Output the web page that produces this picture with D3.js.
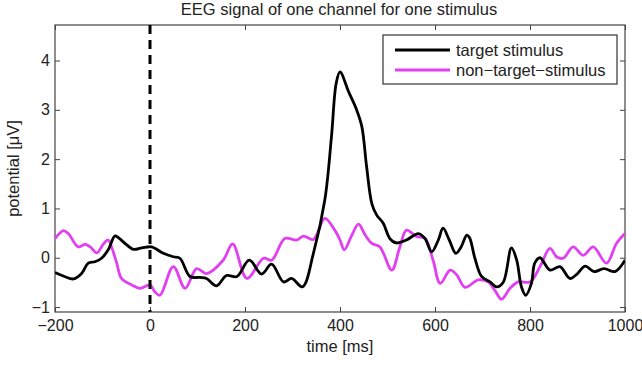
<!DOCTYPE html>
<html><head><meta charset="utf-8">
<script src="https://cdn.jsdelivr.net/npm/d3@7"></script>
<style>body{margin:0;background:#fff}svg{display:block}text{font-family:"Liberation Sans",Arial,sans-serif}</style>
</head><body><svg id="c" width="642" height="368"></svg>
<script>
const targetTime = [-200,-180,-161,-144,-130,-116,-102,-88,-74,-67,-49,-35,-17,3,28,49,63,84,105,119,140,161,183,209,235,256,281,298,321,344,368,382,392,400,418,435,446,456,467,477,491,505,519,540,565,579,593,607,617,630,644,655,667,673,684,698,716,730,744,761,772,782,791,803,810,821,842,863,884,900,916,935,956,979,1000];
const targetValue = [-0.30,-0.38,-0.43,-0.32,-0.11,-0.08,-0.01,0.16,0.44,0.41,0.26,0.17,0.20,0.22,0.09,0.02,-0.01,-0.38,-0.40,-0.42,-0.57,-0.36,-0.38,-0.05,-0.33,-0.13,-0.49,-0.42,-0.59,0.09,1.17,2.45,3.54,3.77,3.37,3.00,2.66,1.85,1.10,0.87,0.70,0.39,0.30,0.36,0.49,0.39,0.12,0.36,0.60,0.36,0.09,0.22,0.46,0.40,-0.01,-0.38,-0.49,-0.59,-0.49,0.20,-0.05,-0.59,-0.76,-0.52,-0.11,0.00,-0.25,-0.18,-0.42,-0.32,-0.17,-0.28,-0.22,-0.28,-0.05];
const nonTargetTime = [-200,-182,-172,-151,-137,-126,-112,-98,-88,-81,-70,-60,-39,-21,0,10,21,49,74,98,119,154,174,204,239,256,284,309,323,344,368,389,400,409,425,439,453,467,484,509,526,540,561,579,596,611,632,646,663,691,712,726,740,758,775,800,821,842,856,870,891,912,933,961,982,1000];
const nonTargetValue = [0.39,0.55,0.49,0.22,0.27,0.22,0.10,0.28,0.36,0.22,-0.11,-0.42,-0.55,-0.62,-0.55,-0.69,-0.76,-0.18,-0.62,-0.22,-0.32,-0.05,0.28,-0.42,-0.01,-0.05,0.39,0.36,0.44,0.37,0.80,0.56,0.36,0.16,0.46,0.68,0.46,0.29,0.22,-0.25,0.22,0.56,0.43,0.39,-0.05,-0.52,-0.25,-0.35,-0.60,-0.45,-0.49,-0.66,-0.84,-0.62,-0.49,-0.49,-0.18,0.19,0.02,-0.01,0.22,0.05,0.22,-0.11,0.29,0.49];
const xTicks = [-200,0,200,400,600,800,1000];
const yTicks = [-1,0,1,2,3,4];
const seriesNames = ["target stimulus","non\u2212target\u2212stimulus"];
const seriesColors = ["#000000","#e23ff2"];
const stimulusOnset = 0;

const svg = d3.select("#c");
const L=55,R=625,T=25,B=312;
const x = d3.scaleLinear().domain([-200,1000]).range([L,R]);
const y = d3.scaleLinear().domain([-1.1,4.72]).range([B,T]);

svg.append("text").attr("x",(L+R)/2-1).attr("y",15).attr("text-anchor","middle")
  .attr("font-size",16.5).attr("fill","#222").text("EEG signal of one channel for one stimulus");

const fmt = d => d<0 ? "\u2212"+Math.abs(d) : String(d);
const gx = svg.append("g").attr("transform",`translate(0,${B})`)
  .call(d3.axisBottom(x).tickValues(xTicks).tickSize(-5).tickPadding(8).tickFormat(fmt));
const gx2 = svg.append("g").attr("transform",`translate(0,${T})`)
  .call(d3.axisTop(x).tickValues(xTicks).tickSize(-5).tickFormat(""));
const gy = svg.append("g").attr("transform",`translate(${L},0)`)
  .call(d3.axisLeft(y).tickValues(yTicks).tickSize(-5).tickPadding(5).tickFormat(fmt));
const gy2 = svg.append("g").attr("transform",`translate(${R},0)`)
  .call(d3.axisRight(y).tickValues(yTicks).tickSize(-5).tickFormat(""));
[gx,gx2,gy,gy2].forEach(g=>{
  g.selectAll(".domain").remove();
  g.selectAll("line").attr("stroke","#444").attr("stroke-width",1);
  g.selectAll("text").attr("font-size",16).attr("fill","#222").attr("font-family","Liberation Sans,Arial,sans-serif");
});
svg.append("rect").attr("x",L).attr("y",T).attr("width",R-L).attr("height",B-T)
  .attr("fill","none").attr("stroke","#444").attr("stroke-width",1.2);

svg.append("text").attr("x",(L+R)/2).attr("y",352).attr("text-anchor","middle")
  .attr("font-size",16.5).attr("fill","#222").text("time [ms]");
svg.append("text").attr("transform",`translate(19,${(T+B)/2}) rotate(-90)`).attr("text-anchor","middle")
  .attr("font-size",16.5).attr("fill","#222").text("potential [\u03bcV]");

const clip = svg.append("clipPath").attr("id","cp").append("rect").attr("x",L).attr("y",T).attr("width",R-L).attr("height",B-T);
const line = d3.line().x(d=>x(d[0])).y(d=>y(d[1])).curve(d3.curveCatmullRom.alpha(0.5));
const g = svg.append("g").attr("clip-path","url(#cp)");
g.append("path").datum(d3.zip(nonTargetTime,nonTargetValue)).attr("d",line)
  .attr("fill","none").attr("stroke",seriesColors[1]).attr("stroke-width",2.8).attr("stroke-linejoin","round");
g.append("path").datum(d3.zip(targetTime,targetValue)).attr("d",line)
  .attr("fill","none").attr("stroke",seriesColors[0]).attr("stroke-width",2.8).attr("stroke-linejoin","round");

g.append("line").attr("x1",x(stimulusOnset)).attr("x2",x(stimulusOnset)).attr("y1",T).attr("y2",B)
  .attr("stroke","#000").attr("stroke-width",3).attr("stroke-dasharray","9,6");

// legend
const lg = svg.append("g");
lg.append("rect").attr("x",383).attr("y",35).attr("width",234).attr("height",49)
  .attr("fill","#fff").attr("stroke","#333").attr("stroke-width",1.2);
seriesNames.forEach((n,i)=>{
  const yy = 50 + i*20;
  lg.append("line").attr("x1",395).attr("x2",450).attr("y1",yy).attr("y2",yy)
    .attr("stroke",seriesColors[i]).attr("stroke-width",2.8);
  lg.append("text").attr("x",456).attr("y",yy+5.5).attr("font-size",16.5).attr("fill","#222").text(n);
});
</script></body></html>
